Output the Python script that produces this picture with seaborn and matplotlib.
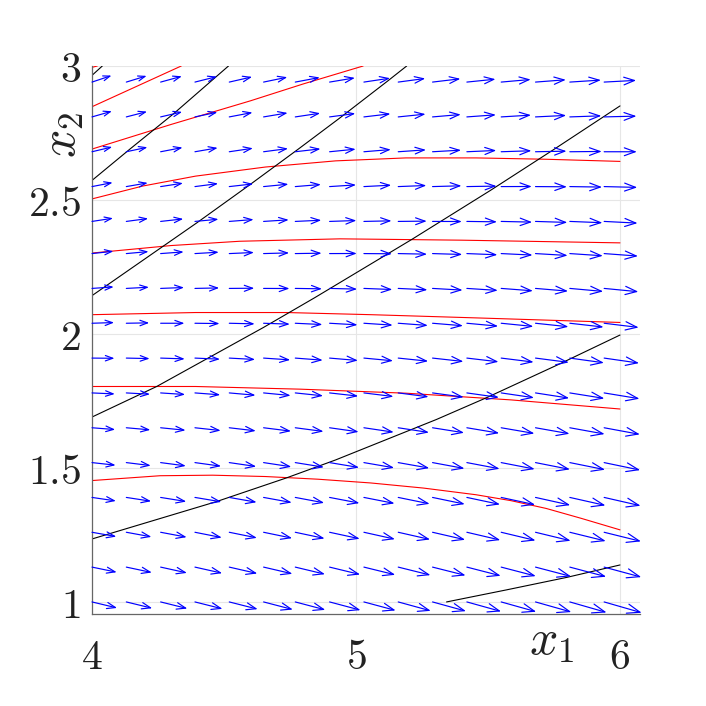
import numpy as np
import matplotlib
matplotlib.use("Agg")
import matplotlib.pyplot as plt
import seaborn as sns

sns.set_style("white")
plt.rcParams["mathtext.fontset"] = "cm"

# arrow tails (x1 across, x2 up)
x_pos = [4.00, 4.13, 4.26, 4.39, 4.52, 4.65, 4.77, 4.90,
         5.03, 5.16, 5.29, 5.42, 5.55, 5.68, 5.81, 5.94]
y_pos = [1.00, 1.13, 1.26, 1.39, 1.52, 1.65, 1.78, 1.91,
         2.04, 2.17, 2.30, 2.42, 2.55, 2.68, 2.81, 2.94]

# arrow components (pixels), one row per y_pos
u_px = [
    [25.1, 25.9, 26.7, 27.5, 28.4, 29.2, 30.0, 30.9, 31.7, 32.5, 33.4, 34.2, 35.0, 35.8, 36.7, 37.5],
    [24.7, 25.5, 26.3, 27.2, 28.0, 28.8, 29.7, 30.5, 31.3, 32.2, 33.0, 33.8, 34.6, 35.5, 36.3, 37.1],
    [24.3, 25.1, 26.0, 26.8, 27.6, 28.5, 29.3, 30.1, 31.0, 31.8, 32.6, 33.4, 34.3, 35.1, 35.9, 36.8],
    [23.9, 24.8, 25.6, 26.4, 27.3, 28.1, 28.9, 29.8, 30.6, 31.4, 32.2, 33.1, 33.9, 34.7, 35.6, 36.4],
    [23.6, 24.4, 25.2, 26.1, 26.9, 27.7, 28.6, 29.4, 30.2, 31.0, 31.9, 32.7, 33.5, 34.4, 35.2, 36.0],
    [23.2, 24.0, 24.9, 25.7, 26.5, 27.4, 28.2, 29.0, 29.8, 30.7, 31.5, 32.3, 33.2, 34.0, 34.8, 35.7],
    [22.8, 23.7, 24.5, 25.3, 26.2, 27.0, 27.8, 28.6, 29.5, 30.3, 31.1, 32.0, 32.8, 33.6, 34.5, 35.3],
    [22.5, 23.3, 24.1, 25.0, 25.8, 26.6, 27.4, 28.3, 29.1, 29.9, 30.8, 31.6, 32.4, 33.3, 34.1, 34.9],
    [22.1, 22.9, 23.8, 24.6, 25.4, 26.2, 27.1, 27.9, 28.7, 29.6, 30.4, 31.2, 32.1, 32.9, 33.7, 34.5],
    [21.7, 22.6, 23.4, 24.2, 25.0, 25.9, 26.7, 27.5, 28.4, 29.2, 30.0, 30.9, 31.7, 32.5, 33.3, 34.2],
    [21.4, 22.2, 23.0, 23.8, 24.7, 25.5, 26.3, 27.2, 28.0, 28.8, 29.7, 30.5, 31.3, 32.1, 33.0, 33.8],
    [21.0, 21.8, 22.6, 23.5, 24.3, 25.1, 26.0, 26.8, 27.6, 28.5, 29.3, 30.1, 30.9, 31.8, 32.6, 33.4],
    [20.6, 21.4, 22.3, 23.1, 23.9, 24.8, 25.6, 26.4, 27.3, 28.1, 28.9, 29.7, 30.6, 31.4, 32.2, 33.1],
    [20.2, 21.1, 21.9, 22.7, 23.6, 24.4, 25.2, 26.1, 26.9, 27.7, 28.5, 29.4, 30.2, 31.0, 31.9, 32.7],
    [19.9, 20.7, 21.5, 22.4, 23.2, 24.0, 24.9, 25.7, 26.5, 27.3, 28.2, 29.0, 29.8, 30.7, 31.5, 32.3],
    [19.5, 20.3, 21.2, 22.0, 22.8, 23.7, 24.5, 25.3, 26.1, 27.0, 27.8, 28.6, 29.5, 30.3, 31.1, 32.0],
]
v_px = [
    [-6.0, -6.3, -6.6, -6.9, -7.2, -7.6, -7.9, -8.2, -8.5, -8.9, -9.2, -9.5, -9.8, -10.1, -10.5, -10.8],
    [-5.1, -5.4, -5.8, -6.1, -6.4, -6.7, -7.1, -7.4, -7.7, -8.0, -8.3, -8.7, -9.0, -9.3, -9.6, -10.0],
    [-4.3, -4.6, -4.9, -5.3, -5.6, -5.9, -6.2, -6.5, -6.9, -7.2, -7.5, -7.8, -8.2, -8.5, -8.8, -9.1],
    [-3.5, -3.8, -4.1, -4.4, -4.8, -5.1, -5.4, -5.7, -6.0, -6.4, -6.7, -7.0, -7.3, -7.7, -8.0, -8.3],
    [-2.6, -3.0, -3.3, -3.6, -3.9, -4.2, -4.6, -4.9, -5.2, -5.5, -5.9, -6.2, -6.5, -6.8, -7.1, -7.5],
    [-1.8, -2.1, -2.5, -2.8, -3.1, -3.4, -3.7, -4.1, -4.4, -4.7, -5.0, -5.4, -5.7, -6.0, -6.3, -6.6],
    [-1.0, -1.3, -1.6, -1.9, -2.3, -2.6, -2.9, -3.2, -3.6, -3.9, -4.2, -4.5, -4.8, -5.2, -5.5, -5.8],
    [-0.2, -0.5, -0.8, -1.1, -1.4, -1.8, -2.1, -2.4, -2.7, -3.1, -3.4, -3.7, -4.0, -4.3, -4.7, -5.0],
    [0.7, 0.4, 0.0, -0.3, -0.6, -0.9, -1.3, -1.6, -1.9, -2.2, -2.5, -2.9, -3.2, -3.5, -3.8, -4.2],
    [1.5, 1.2, 0.9, 0.5, 0.2, -0.1, -0.4, -0.7, -1.1, -1.4, -1.7, -2.0, -2.4, -2.7, -3.0, -3.3],
    [2.3, 2.0, 1.7, 1.4, 1.1, 0.7, 0.4, 0.1, -0.2, -0.6, -0.9, -1.2, -1.5, -1.9, -2.2, -2.5],
    [3.2, 2.9, 2.5, 2.2, 1.9, 1.6, 1.2, 0.9, 0.6, 0.3, -0.1, -0.4, -0.7, -1.0, -1.3, -1.7],
    [4.0, 3.7, 3.4, 3.0, 2.7, 2.4, 2.1, 1.7, 1.4, 1.1, 0.8, 0.5, 0.1, -0.2, -0.5, -0.8],
    [4.8, 4.5, 4.2, 3.9, 3.5, 3.2, 2.9, 2.6, 2.2, 1.9, 1.6, 1.3, 1.0, 0.6, 0.3, 0.0],
    [5.7, 5.3, 5.0, 4.7, 4.4, 4.0, 3.7, 3.4, 3.1, 2.8, 2.4, 2.1, 1.8, 1.5, 1.1, 0.8],
    [6.5, 6.2, 5.8, 5.5, 5.2, 4.9, 4.6, 4.2, 3.9, 3.6, 3.3, 2.9, 2.6, 2.3, 2.0, 1.7],
]

# red trajectories
traj1_x = [4.00, 4.02]
traj1_y = [2.995, 3.00]
traj2_x = [4.00, 4.338]
traj2_y = [2.848, 3.00]
traj3_x = [4.00, 4.30, 4.60, 4.80, 5.027]
traj3_y = [2.690, 2.782, 2.870, 2.933, 3.00]
traj4_x = [4.00, 4.192, 4.392, 4.657, 4.923, 5.189, 5.455, 5.72, 6.00]
traj4_y = [2.504, 2.552, 2.589, 2.623, 2.646, 2.657, 2.657, 2.652, 2.644]
traj5_x = [4.00, 4.30, 4.56, 4.94, 5.40, 6.00]
traj5_y = [2.302, 2.330, 2.346, 2.355, 2.350, 2.340]
traj6_x = [4.00, 4.392, 4.737, 5.056, 5.455, 6.00]
traj6_y = [2.072, 2.080, 2.080, 2.072, 2.060, 2.043]
traj7_x = [4.00, 4.392, 4.79, 5.189, 5.587, 6.00]
traj7_y = [1.804, 1.804, 1.794, 1.779, 1.754, 1.720]
traj8_x = [4.00, 4.258, 4.457, 4.657, 4.856, 5.056, 5.255, 5.455, 5.587, 5.72, 5.853, 6.00]
traj8_y = [1.453, 1.471, 1.473, 1.468, 1.458, 1.444, 1.425, 1.400, 1.378, 1.349, 1.312, 1.269]

# black curves
curve1_x = [4.00, 4.039]
curve1_y = [2.965, 3.00]
curve2_x = [4.00, 4.145, 4.308, 4.517]
curve2_y = [2.573, 2.691, 2.821, 3.00]
curve3_x = [4.00, 4.396, 4.598, 4.783, 4.936, 5.12, 5.192]
curve3_y = [2.143, 2.414, 2.557, 2.691, 2.804, 2.944, 3.00]
curve4_x = [4.00, 4.245, 4.649, 4.843, 5.21, 5.508, 5.747, 6.00]
curve4_y = [1.690, 1.804, 2.024, 2.135, 2.352, 2.535, 2.687, 2.851]
curve5_x = [4.00, 4.47, 4.737, 4.923, 5.305, 5.494, 5.773, 6.00]
curve5_y = [1.235, 1.374, 1.463, 1.530, 1.681, 1.762, 1.889, 1.996]
curve6_x = [5.343, 5.57, 5.80, 6.00]
curve6_y = [1.000, 1.045, 1.092, 1.138]

fig = plt.figure(figsize=(7.06, 7.06), dpi=100)
ax = fig.add_axes([92 / 706, 92 / 706, 548 / 706, 548 / 706])

# direction field
for i, yv in enumerate(y_pos):
    for j, xv in enumerate(x_pos):
        u, v = u_px[i][j], v_px[i][j]
        size = np.hypot(u, v) * 72 / 100
        ax.annotate("", xy=(xv, yv), xytext=(u, v), textcoords="offset pixels",
                    arrowprops=dict(arrowstyle="<-,head_length=0.33,head_width=0.12",
                                    mutation_scale=size, color="blue", lw=0.85,
                                    shrinkA=0, shrinkB=0))

reds = [(traj1_x, traj1_y), (traj2_x, traj2_y), (traj3_x, traj3_y), (traj4_x, traj4_y),
        (traj5_x, traj5_y), (traj6_x, traj6_y), (traj7_x, traj7_y), (traj8_x, traj8_y)]
blacks = [(curve1_x, curve1_y), (curve2_x, curve2_y), (curve3_x, curve3_y),
          (curve4_x, curve4_y), (curve5_x, curve5_y), (curve6_x, curve6_y)]
for cx, cy in reds:
    sns.lineplot(x=cx, y=cy, sort=False, estimator=None, color="red", linewidth=0.8, ax=ax)
for cx, cy in blacks:
    sns.lineplot(x=cx, y=cy, sort=False, estimator=None, color="black", linewidth=0.8, ax=ax)

ax.set_xlim(4, 6.0758)
ax.set_ylim(0.955, 3.0)
ax.set_xticks([4, 5, 6])
ax.set_xticklabels([r"$4$", r"$5$", r"$6$"])
ax.set_yticks([1, 1.5, 2, 2.5, 3])
ax.set_yticklabels([r"$1$", r"$1.5$", r"$2$", r"$2.5$", r"$3$"])
ax.grid(True, color="#e6e6e6", linewidth=0.8)
ax.set_axisbelow(True)
for side in ["top", "right"]:
    ax.spines[side].set_visible(False)
for side in ["left", "bottom"]:
    ax.spines[side].set_color("#666666")
    ax.spines[side].set_linewidth(0.9)
ax.tick_params(axis="both", direction="in", length=4, width=0.6, color="#444444",
               labelsize=30, labelcolor="#222222")
ax.tick_params(axis="y", pad=8)
ax.tick_params(axis="x", pad=16)

ax.set_xlabel(r"$x_1$", fontsize=36, color="#222222")
ax.xaxis.set_label_coords((552 - 92) / 548, -(641 - 614) / 548)
ax.xaxis.label.set_va("center")
ax.set_ylabel(r"$x_2$", fontsize=36, color="#222222")
ax.yaxis.set_label_coords((62 - 92) / 548, (614 - 135) / 548)
ax.yaxis.label.set_va("center")

fig.savefig("out.png", dpi=100)
